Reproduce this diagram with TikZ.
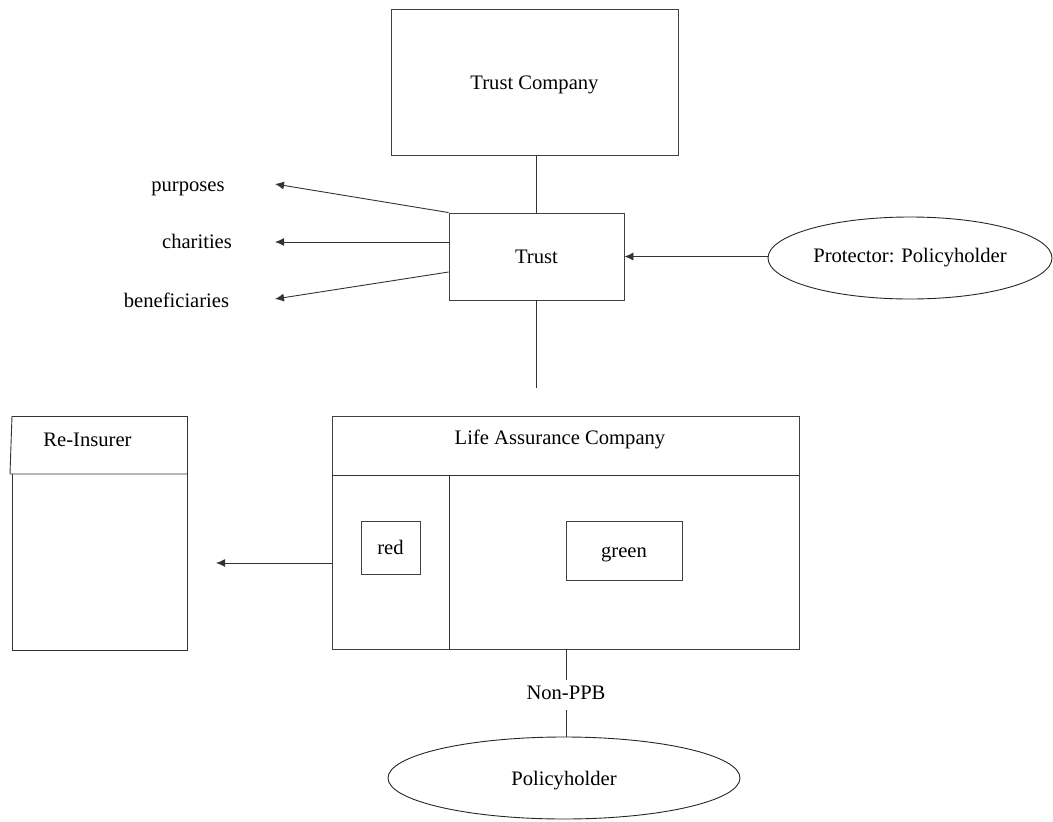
\documentclass[tikz,border=0pt]{standalone}
\usepackage{fontspec}
\setmainfont{Liberation Serif}
\usetikzlibrary{shapes.geometric,arrows.meta}
\begin{document}
\begin{tikzpicture}[x=1pt,y=-1pt,
  every node/.style={font=\fontsize{20.6}{24}\selectfont,text height=14pt,text depth=4.5pt},
  edge/.style={draw=black!80,line width=0.9pt},
  arr/.style={edge,-{Latex[length=9pt,width=8pt]}},
  box/.style={draw=black!75,line width=0.9pt,rectangle,inner sep=0pt,text depth=0pt},
  oval/.style={draw=black!85,line width=0.9pt,ellipse,inner sep=0pt,text depth=0pt},
  plain/.style={inner sep=0pt}]
\useasboundingbox (0,0) rectangle (1053,822);

% trust structure
\node[box,minimum width=287pt,minimum height=146pt] (tc) at (534.5,82) {Trust Company};
\node[box,minimum width=175pt,minimum height=87pt] (trust) at (536.5,256.5) {Trust};
\node[oval,minimum width=284pt,minimum height=82pt,text depth=4.5pt] (prot) at (910,258) {Protector: Policyholder};
\coordinate (trustend) at (536.5,388);

% objects of the trust
\node[plain] (purp) at (188,186.3) {purposes};
\node[plain] (char) at (197,243.3) {charities};
\node[plain] (bene) at (176.5,302.3) {beneficiaries};
\coordinate (tpurp) at (275,184);
\coordinate (tchar) at (275,242);
\coordinate (tbene) at (275,299);

\draw[edge] (tc.south -| trust.north) -- (trust.north);
\draw[edge] (trust.south) -- (trustend);
\draw[arr] (prot.west |- trust.east) -- (trust.east);
\draw[arr] (trust.north west) -- (tpurp);
\draw[arr] ([yshift=14.5pt]trust.west) -- (tchar);
\draw[arr] ([yshift=-15.5pt]trust.west) -- (tbene);

% life assurance company
\node[box,minimum width=467pt,minimum height=233pt] (life) at (565.5,532.5) {};
\node[plain] (lifetitle) at (560,440) {Life Assurance Company};
\draw[edge] (332,475) -- (799,475);
\draw[edge] (449,475) -- (449,649);
\node[box,minimum width=59pt,minimum height=53pt] (red) at (390.5,547.5) {red};
\node[box,minimum width=116pt,minimum height=59pt] (green) at (624,550.5) {green};

% re-insurer
\draw[edge] (12,416) -- (187,416) -- (187,650) -- (12,650) -- (12,474);
\draw[edge] (12,416) -- (10,474) -- (187,474);
\node[plain] (reins) at (87.5,441.3) {Re-Insurer};
\coordinate (reinsend) at (216,563);
\draw[arr] (life.west |- reinsend) -- (reinsend);

% policyholder
\node[oval,minimum width=352pt,minimum height=82pt] (ph) at (564,778) {Policyholder};
\node[plain,minimum height=30pt] (nonppb) at (566,695) {Non-PPB};
\draw[edge] (566,649) -- (nonppb.north);
\draw[edge] (nonppb.south) -- (566,737);
\end{tikzpicture}
\end{document}
